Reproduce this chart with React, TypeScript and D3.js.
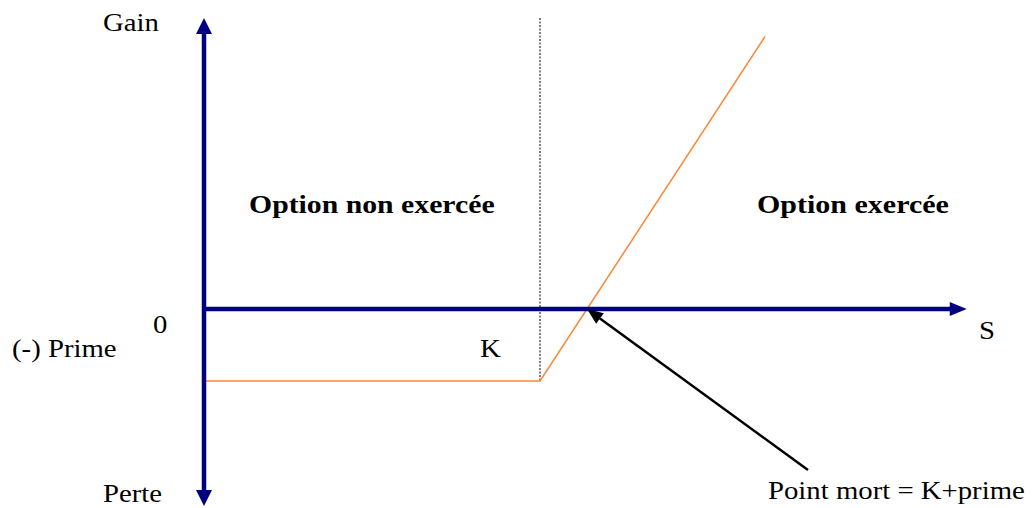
import React from "react";
import * as d3 from "d3";

// Payoff of a long call: S values and gain
const K = 100;
const prime = 14;
const payoffS = [0, 100, 167];
const payoffGain = payoffS.map((s) => Math.max(s - K, 0) - prime);
const axisRange = { sMax: 227, gainMax: 56.6, gainMin: -38.3 };
const breakEven = K + prime;

const labels = {
  gain: "Gain",
  perte: "Perte",
  zero: "0",
  prime: "(-) Prime",
  k: "K",
  s: "S",
  left: "Option non exercée",
  right: "Option exercée",
  pm: "Point mort = K+prime",
};

const W = 1036;
const H = 508;
const navy = "#000080";
const orange = "#ff8535";
const font = "'Liberation Serif', 'Times New Roman', serif";

export default function App() {
  const x = d3.scaleLinear().domain([0, K]).range([204, 540]);
  const y = d3.scaleLinear().domain([-prime, 0]).range([381, 309]);

  const line = d3
    .line<number>()
    .x((_, i) => x(payoffS[i]))
    .y((d) => y(d));

  const x0 = x(0);
  const y0 = y(0);
  const yTop = y(axisRange.gainMax);
  const yBot = y(axisRange.gainMin);
  const xEnd = x(axisRange.sMax);

  const bx = x(breakEven);
  const by = y(0);
  const ax = 808;
  const ay = 470;
  const ang = Math.atan2(by - ay, bx - ax);
  const hl = 16;
  const hw = 6.5;
  const baseX = bx - hl * Math.cos(ang);
  const baseY = by - hl * Math.sin(ang);
  const px = -Math.sin(ang);
  const py = Math.cos(ang);

  const T = (
    tx: number,
    ty: number,
    s: string,
    bold = false,
    sx = 1.15
  ) => (
    <text
      transform={`translate(${tx},${ty}) scale(${sx},1)`}
      fontFamily={font}
      fontSize={25}
      fontWeight={bold ? "bold" : "normal"}
      fill="#000"
    >
      {s}
    </text>
  );

  return (
    <svg
      width={W}
      height={H}
      style={{ position: "absolute", left: 0, top: 0, background: "#fff" }}
    >
      {/* dotted line at K */}
      <line
        x1={x(K)}
        x2={x(K)}
        y1={18}
        y2={y(-prime)}
        stroke="#000"
        strokeWidth={1}
        strokeDasharray="2,1.5"
      />
      {/* payoff */}
      <path d={line(payoffGain) || ""} fill="none" stroke={orange} strokeWidth={1.5} />

      {/* vertical axis */}
      <line x1={x0} x2={x0} y1={yTop + 14} y2={yBot - 14} stroke={navy} strokeWidth={4.5} />
      <polygon points={`${x0},${yTop} ${x0 - 8},${yTop + 16} ${x0 + 8},${yTop + 16}`} fill={navy} />
      <polygon points={`${x0},${yBot} ${x0 - 8},${yBot - 16} ${x0 + 8},${yBot - 16}`} fill={navy} />
      {/* horizontal axis */}
      <line x1={x0} x2={xEnd - 14} y1={y0} y2={y0} stroke={navy} strokeWidth={4.5} />
      <polygon points={`${xEnd},${y0} ${xEnd - 17},${y0 - 7} ${xEnd - 17},${y0 + 7}`} fill={navy} />

      {/* black annotation arrow */}
      <line x1={ax} y1={ay} x2={baseX} y2={baseY} stroke="#000" strokeWidth={2.5} />
      <polygon
        points={`${bx},${by} ${baseX + px * hw},${baseY + py * hw} ${baseX - px * hw},${baseY - py * hw}`}
        fill="#000"
      />

      {T(103, 31, labels.gain)}
      {T(103, 502, labels.perte)}
      {T(153, 333, labels.zero)}
      {T(12, 357, labels.prime)}
      {T(480, 357, labels.k)}
      {T(979, 339, labels.s)}
      {T(249, 213, labels.left, true, 1.19)}
      {T(757, 213, labels.right, true, 1.2)}
      {T(768, 499, labels.pm)}
    </svg>
  );
}
